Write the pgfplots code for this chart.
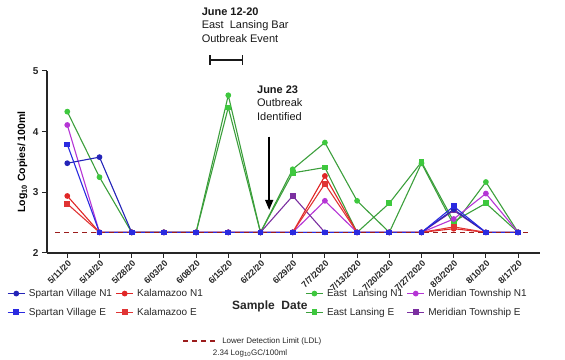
\documentclass[border=0pt]{standalone}
\usepackage{pgfplots}
\pgfplotsset{compat=1.18}
\usepackage{pgfplotstable}
\usepackage{fontspec}
\setmainfont{Liberation Sans}
\usetikzlibrary{arrows.meta}
\definecolor{svn}{HTML}{2424B8}
\definecolor{sve}{HTML}{2A2AE0}
\definecolor{kzn}{HTML}{E02626}
\definecolor{kze}{HTML}{E03434}
\definecolor{elline}{HTML}{3C9F3C}
\definecolor{elfill}{HTML}{3EC83E}
\definecolor{mtn}{HTML}{B535D5}
\definecolor{mte}{HTML}{7B2FA0}
\definecolor{ldl}{HTML}{9B1C1C}

\pgfplotstableread{
idx svn  sve  kzn  kze  eln  ele  mtn  mte
0   3.48 3.79 2.94 2.81 4.33 nan  4.11 nan
1   3.58 2.34 2.34 2.34 3.25 2.34 2.34 2.34
2   2.34 2.34 2.34 2.34 2.34 2.34 2.34 2.34
3   2.34 2.34 2.34 2.34 2.34 2.34 2.34 2.34
4   2.34 2.34 2.34 2.34 2.34 2.34 2.34 2.34
5   2.34 2.34 2.34 2.34 4.60 4.40 2.34 2.34
6   2.34 2.34 2.34 2.34 2.34 2.34 2.34 2.34
7   2.34 2.34 2.34 2.34 3.38 3.32 2.34 2.94
8   2.34 2.34 3.27 3.14 3.82 3.41 2.86 2.34
9   2.34 2.34 2.34 2.34 2.86 2.34 2.34 2.34
10  2.34 2.34 2.34 2.34 2.34 2.82 2.34 2.34
11  2.34 2.34 2.34 2.34 3.48 3.50 2.34 2.34
12  2.72 2.77 2.40 2.43 2.46 2.52 2.56 2.70
13  2.34 2.34 2.34 2.34 3.17 2.82 2.98 2.34
14  2.34 2.34 2.34 2.34 2.34 2.34 2.34 2.34
}\datatable

\begin{document}
\begin{tikzpicture}
\begin{axis}[
  scale only axis,
  width=493pt, height=182pt,
  xmin=-0.63, xmax=14.68,
  ymin=2, ymax=5,
  clip=false,
  axis x line*=bottom,
  axis y line*=left,
  axis line style={line width=1.1pt, draw=black!85, -},
  tick style={line width=1pt, black!85},
  major tick length=5pt,
  tick align=outside,
  ytick={2,3,4,5},
  xtick={0,...,14},
  xticklabels={5/11/20,5/18/20,5/28/20,6/03/20,6/08/20,6/15/20,6/22/20,6/29/20,7/7/2020,7/13/2020,7/20/2020,7/27/2020,8/3/2020,8/10/20,8/17/20},
  xticklabel style={rotate=45, anchor=north east, font=\fontsize{8.8}{10}\selectfont\bfseries, inner sep=1pt, text=black!85},
  yticklabel style={font=\fontsize{10}{12}\selectfont\bfseries, text=black!85},
  /pgf/number format/assume math mode=true,
  ylabel={Log\textsubscript{10} Copies/ 100ml},
  ylabel style={font=\fontsize{10.5}{12}\selectfont\bfseries, at={(axis description cs:0,0.5)}, anchor=south, yshift=16pt},
  every axis plot/.append style={line width=1.1pt, mark size=2.3pt},
  legend columns=2,
  transpose legend,
  legend style={at={(axis description cs:0,0)}, anchor=north west, xshift=-40pt, yshift=-34pt,
    draw=none, fill=none, font=\fontsize{10}{12}\selectfont, text=black!85,
    column sep=1.5pt, row sep=6pt, inner sep=0pt},
  legend cell align=left,
]
\addplot[forget plot, elline, mark=square*, mark options={fill=elfill, draw=elfill}] table[x=idx, y=ele] {\datatable};
\addplot[forget plot, elline, mark=*, mark options={fill=elfill, draw=elfill}] table[x=idx, y=eln] {\datatable};
\addplot[forget plot, mtn, mark=*, mark options={fill=mtn}] table[x=idx, y=mtn] {\datatable};
\addplot[forget plot, mte, mark=square*, mark options={fill=mte}] table[x=idx, y=mte] {\datatable};
\addplot[forget plot, kzn, mark=*, mark options={fill=kzn}] table[x=idx, y=kzn] {\datatable};
\addplot[forget plot, kze, mark=square*, mark options={fill=kze}] table[x=idx, y=kze] {\datatable};
\addplot[forget plot, svn, mark=*, mark options={fill=svn}] table[x=idx, y=svn] {\datatable};
\addplot[forget plot, sve, mark=square*, mark options={fill=sve}] table[x=idx, y=sve] {\datatable};
\addplot[forget plot, ldl, line width=1.6pt, dash pattern=on 5pt off 4pt, mark=none] coordinates {(-0.38,2.34) (14.3,2.34)};

\addlegendimage{svn, mark=*, mark options={fill=svn}}
\addlegendentry{Spartan Village N1}
\addlegendimage{sve, mark=square*, mark options={fill=sve}}
\addlegendentry{Spartan Village E}
\addlegendimage{kzn, mark=*, mark options={fill=kzn}}
\addlegendentry{Kalamazoo N1}
\addlegendimage{kze, mark=square*, mark options={fill=kze}}
\addlegendentry{Kalamazoo E}
\addlegendimage{empty legend}
\addlegendentry{\rule{92pt}{0pt}}
\addlegendimage{empty legend}
\addlegendentry{\rule{92pt}{0pt}}
\addlegendimage{elline, mark=*, mark options={fill=elfill, draw=elfill}}
\addlegendentry{East\ \ Lansing N1}
\addlegendimage{elline, mark=square*, mark options={fill=elfill, draw=elfill}}
\addlegendentry{East Lansing E}
\addlegendimage{mtn, mark=*, mark options={fill=mtn}}
\addlegendentry{Meridian Township N1}
\addlegendimage{mte, mark=square*, mark options={fill=mte}}
\addlegendentry{Meridian Township E}

% x label
\node[font=\fontsize{12}{14}\selectfont\bfseries, text=black!85] at ([yshift=-53pt]axis description cs:0.452,0) {Sample\ \ Date};

% LDL legend
\draw[ldl, line width=1.6pt, dash pattern=on 5pt off 4pt] ([yshift=-88pt]axis description cs:0.276,0) -- ([yshift=-88pt, xshift=35pt]axis description cs:0.276,0);
\node[anchor=west, font=\fontsize{8}{9.5}\selectfont, text=black!85, inner sep=0pt] at ([yshift=-88pt, xshift=39pt]axis description cs:0.276,0) {Lower Detection Limit (LDL)};
\node[font=\fontsize{8}{9.5}\selectfont, text=black!85, inner sep=0pt] at ([yshift=-100pt, xshift=67pt]axis description cs:0.276,0) {2.34 Log\textsubscript{10}GC/100ml};

% annotations
\node[anchor=north west, align=left, font=\fontsize{11}{13.5}\selectfont, inner sep=0pt, text=black!90] at (axis cs:4.17,6.05)
  {\textbf{June 12-20}\\East\ \ Lansing Bar\\Outbreak Event};
\draw[line width=1.3pt, black!90] (axis cs:4.43,5.18) -- (axis cs:5.44,5.18);
\draw[line width=1.3pt, black!90] (axis cs:4.43,5.10) -- (axis cs:4.43,5.26);
\draw[line width=1.3pt, black!90] (axis cs:5.44,5.10) -- (axis cs:5.44,5.26);
\node[anchor=north west, align=left, font=\fontsize{11}{13.5}\selectfont, inner sep=0pt, text=black!90] at (axis cs:5.89,4.76)
  {\textbf{June 23}\\Outbreak\\Identified};
\draw[line width=1.5pt, black, -{Triangle[length=10pt, width=8pt]}] (axis cs:6.27,3.92) -- (axis cs:6.27,2.71);

% bounding box
\path ([xshift=-47pt, yshift=-107pt]rel axis cs:0,0) rectangle ([xshift=25pt, yshift=71pt]rel axis cs:1,1);
\end{axis}
\end{tikzpicture}
\end{document}
